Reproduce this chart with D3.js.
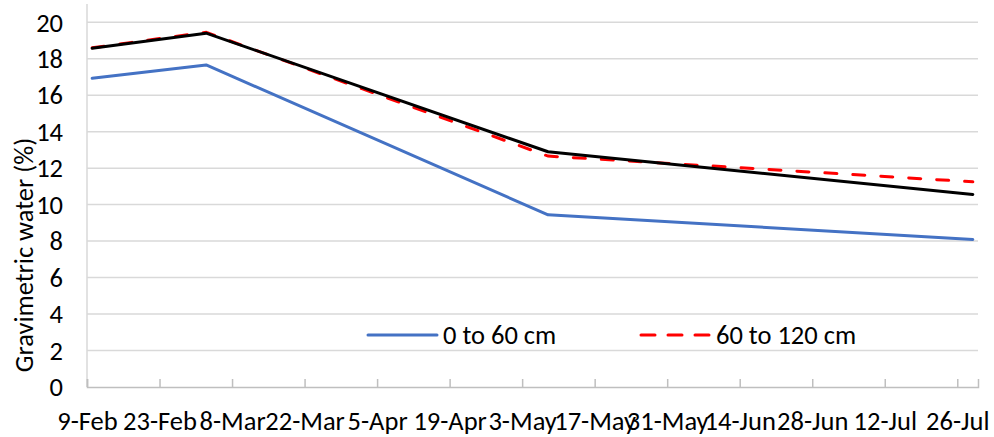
<!DOCTYPE html>
<html>
<head>
<meta charset="utf-8">
<script src="https://cdn.jsdelivr.net/npm/d3@7"></script>
<style>
  body { margin: 0; background: #fff; }
  text { font-family: Calibri, Carlito, Lato, sans-serif; fill: #000; }
</style>
</head>
<body>
<div id="chart"></div>
<script>
// sampling dates (leap year, so 23-Feb + 14 days = 8-Mar)
var dates = ['2020-02-10', '2020-03-03', '2020-05-08', '2020-07-29'];
var shallow = [16.93, 17.66, 9.44, 8.09];   // 0 to 60 cm
var deep = [18.6, 19.45, 12.66, 11.25];     // 60 to 120 cm
var whole = [18.57, 19.40, 12.90, 10.56];   // black line, no legend entry
var tickLabels = ['9-Feb', '23-Feb', '8-Mar', '22-Mar', '5-Apr', '19-Apr', '3-May',
                  '17-May', '31-May', '14-Jun', '28-Jun', '12-Jul', '26-Jul'];
var yTicks = [0, 2, 4, 6, 8, 10, 12, 14, 16, 18, 20];
var legendNames = ['0 to 60 cm', '60 to 120 cm'];

var parse = d3.timeParse('%Y-%m-%d');
var parseTick = d3.timeParse('%Y-%d-%b');
var fontSize = '26.5px';

//Basic setting
var w = 994, h = 437;
var margin = {top: 4, right: 16, bottom: 50, left: 87};
var innerW = w - margin.left - margin.right,
    innerH = h - margin.top - margin.bottom;

var svg = d3.select('#chart').append('svg')
    .attr('width', w)
    .attr('height', h)
    .append('g')
    .attr('transform', 'translate(' + [margin.left, margin.top] + ')');

var x = d3.scaleTime()
    .domain([parse('2020-02-09'), parse('2020-07-30')])
    .range([0, innerW]);
var y = d3.scaleLinear()
    .domain([0, 21])
    .range([innerH, 0]);

// horizontal gridlines
svg.selectAll('line.grid')
    .data(yTicks.slice(1)).enter()
    .append('line')
    .attr('class', 'grid')
    .attr('x1', 0)
    .attr('x2', innerW)
    .attr('y1', function(d) {return y(d)})
    .attr('y2', function(d) {return y(d)})
    .attr('stroke', '#d9d9d9')
    .attr('stroke-width', 1.5);

// y axis line and labels
svg.append('line')
    .attr('x1', 0).attr('x2', 0)
    .attr('y1', 0).attr('y2', innerH)
    .attr('stroke', '#d9d9d9')
    .attr('stroke-width', 1.5);

svg.selectAll('text.ytick')
    .data(yTicks).enter()
    .append('text')
    .attr('class', 'ytick')
    .attr('x', -24)
    .attr('y', function(d) {return y(d)})
    .attr('dy', '0.35em')
    .attr('text-anchor', 'end')
    .attr('font-size', fontSize)
    .text(function(d) {return d});

// x axis with inside tick marks
var tickDates = tickLabels.map(function(t) {return parseTick('2020-' + t)});
var xAxis = d3.axisBottom(x)
    .tickValues(tickDates)
    .tickSize(-8)
    .tickPadding(24)
    .tickFormat(function(d, i) {return tickLabels[i]});

var gx = svg.append('g')
    .attr('transform', 'translate(0,' + innerH + ')')
    .call(xAxis);
gx.select('.domain').attr('stroke', '#bfbfbf').attr('stroke-width', 1.5);
gx.selectAll('.tick line').attr('stroke', '#bfbfbf').attr('stroke-width', 1.5);
gx.selectAll('.tick text')
    .attr('font-size', fontSize)
    .attr('font-family', 'Calibri, Carlito, Lato, sans-serif')
    .attr('fill', '#000');

// y axis title
svg.append('text')
    .attr('transform', 'translate(' + (-54) + ',' + 251 + ') rotate(-90)')
    .attr('text-anchor', 'middle')
    .attr('font-size', fontSize)
    .text('Gravimetric water (%)');

// lines
var line = d3.line()
    .x(function(d) {return x(parse(d[0]))})
    .y(function(d) {return y(d[1])});

function pairs(values) {
    return dates.map(function(d, i) {return [d, values[i]]});
}

svg.append('path')
    .datum(pairs(shallow))
    .attr('d', line)
    .attr('fill', 'none')
    .attr('stroke', '#4472c4')
    .attr('stroke-width', 3)
    .attr('stroke-linejoin', 'round')
    .attr('stroke-linecap', 'round');

svg.append('path')
    .datum(pairs(deep))
    .attr('d', line)
    .attr('fill', 'none')
    .attr('stroke', '#ff0000')
    .attr('stroke-width', 3)
    .attr('stroke-dasharray', '12,16')
    .attr('stroke-linecap', 'round');

svg.append('path')
    .datum(pairs(whole))
    .attr('d', line)
    .attr('fill', 'none')
    .attr('stroke', '#000')
    .attr('stroke-width', 3)
    .attr('stroke-linejoin', 'round')
    .attr('stroke-linecap', 'round');

// legend
var legend = svg.append('g')
    .attr('transform', 'translate(' + (368 - margin.left) + ',' + (335 - margin.top) + ')');

var items = legend.selectAll('g')
    .data(legendNames).enter()
    .append('g')
    .attr('transform', function(d, i) {return 'translate(' + (i * 273) + ',0)'});

items.append('line')
    .attr('x1', 0).attr('x2', 69)
    .attr('y1', 0).attr('y2', 0)
    .attr('stroke', function(d, i) {return i === 0 ? '#4472c4' : '#ff0000'})
    .attr('stroke-width', 3)
    .attr('stroke-dasharray', function(d, i) {return i === 0 ? null : '14,13'})
    .attr('stroke-linecap', 'round');

items.append('text')
    .attr('x', 75)
    .attr('y', 0)
    .attr('dy', '0.35em')
    .attr('font-size', fontSize)
    .text(function(d) {return d});
</script>
</body>
</html>
